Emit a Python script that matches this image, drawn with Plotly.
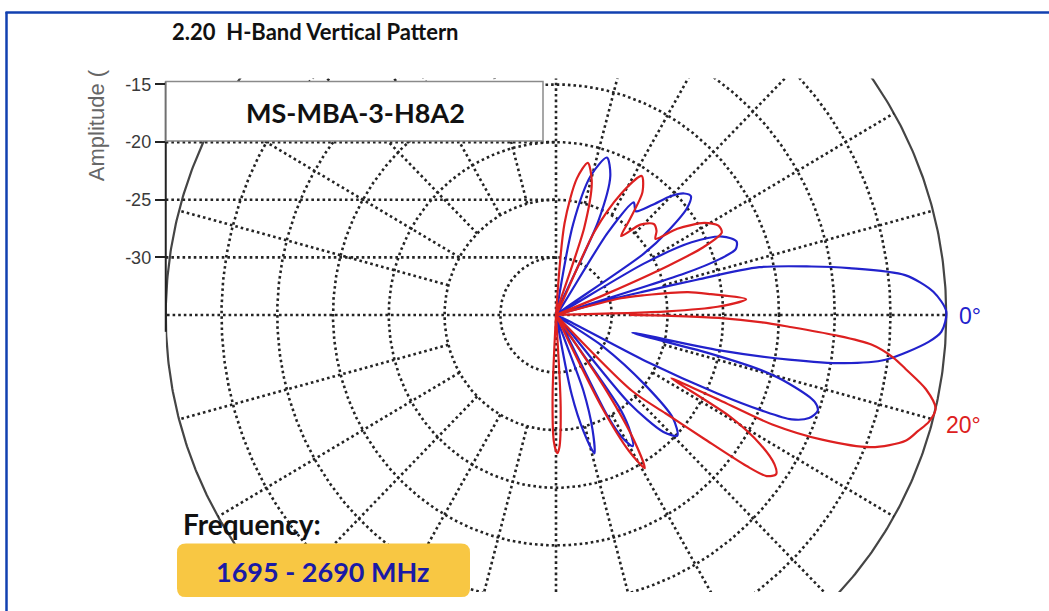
import numpy as np
import plotly.graph_objects as go

# ---------------------------------------------------------------------------
# Vertical pattern data: elevation angle (deg, up = positive) vs amplitude (dB)
# None splits a trace where the pattern falls below the plotted floor.
# ---------------------------------------------------------------------------
BLUE_ANGLE = [90, 82, 79, 75.5, 71.5, 68, 65, 61,
              57, 54.5, 51.5, 48, 45, 42.5, 40.5, 38.3, 36, 34, 31.5,
              29.5, 27.4, 24.5, 21.5, 19.5, 18.3, 17.3, 16.3,
              15.3, 14.5, 13.6, 12.8, 10.4, 8.8, 6.3, 3.4, 0.5, -2.4, -4, -7.5, -9.2, -10.5, -11.8, -12.7,
              -13.6, -14.6, -15.9, -18, -19.5, -21.5, -23.2, -24.2, -25.2, -26.5, -28,
              -33, -37.2, -40.5, -43.9, -46.5, -49.4, -52,
              -54.8, -56.8, -58.8, -60.8, -62.2, -64.5,
              -69.5, -71.8, -74, -76.2, -78.5, -81, -90]
BLUE_DB = [-35, -35, -27, -22.5, -20.6, -22, -26, -35,
           -26.5, -23, -23.5, -22.2, -20.4, -19.4, -19.1, -20, -22.5, -25.5, -35,
           -26, -21.3, -18.6, -17.6, -17.9, -19.5, -23, -35,
           -30, -27.1, -22, -16.3, -11.7, -8.4, -3.5, -1.1, 0, -0.4, -1.5, -5.2, -8.8, -13.75, -20, -28,
           -21, -16, -13.3, -10.6, -10.1, -10.6, -12, -14.8, -19, -26, -35,
           -30, -25, -21.2, -19.9, -21, -25, -35,
           -25, -22.8, -21.7, -22.8, -25, -35,
           -28, -24.5, -22.5, -24.5, -28, -35, -35]

RED_ANGLE = [90, 88, 84.5, 81, 77.8, 74.5, 71.5, 68,
             64.5, 61, 57.5, 54, 51.3, 49.5,
             46, 42, 39, 36.5, 34.5, 31, 28, 25.7, 24, 23, 22, 21,
             18, 14, 12.2, 9.5, 7.4, 4.6, 2.8, 1.8, 1,
             None,
             0, -0.5, -1, -2, -2.8, -4, -5.2, -7, -8.5, -11, -13.4, -15.5, -17.2, -19.2,
             -22.1, -24.4, -26.1, -26.7, -27.6, -28,
             -29.5, -31.5, -33.5, -35, -36.5, -37.5, -39, -41, -44, -47,
             -53, -55.5, -57.3, -59.1, -61, -62.8, -65,
             -85, -87, -88.5, -89.5, -91, -92.5, -94]
RED_DB = [-35, -35, -27, -23, -21.5, -23, -27, -35,
          -27, -23, -20.7, -21.8, -24.5, -26,
          -24.1, -23.2, -23.4, -23.9, -21.8, -19.5, -18.5, -18.5, -20.5, -24, -30, -35,
          -35, -29, -26.9, -23, -21, -17.9, -20.5, -25, -35,
          None,
          -28.4, -24, -20.4, -16.5, -14.1, -10, -6.6, -4.5, -3.3, -1.2, 0, -0.3, -1.0, -1.8,
          -4.5, -8.8, -13.4, -18.3, -22.5, -23.3,
          -17, -13.5, -11.5, -10.9, -11.5, -13.5, -18, -22, -25.5, -35,
          -35, -27, -22, -19.5, -21.5, -26, -35,
          -35, -27, -23.5, -23, -24, -28, -35]

DB_FLOOR = -35                       # amplitude at the centre of the grid
RING_DB = [-30, -25, -20, -15, -10, -5]
OUTER_DB = 0
SPOKE_STEP = 15
AMP_TICKS = [-15, -20, -25, -30]
SERIES = [("0°", BLUE_ANGLE, BLUE_DB, "#2222CC"),
          ("20°", RED_ANGLE, RED_DB, "#DD2020")]

W, H = 1049, 611
CX, CY = 556, 313                    # pixel position of the grid centre
SX, SY = 11.15, 11.6                 # pixels per dB, horizontal / vertical
PLOT_L, PLOT_R, PLOT_T, PLOT_B = CX - 35 * SX, 1000, 75, 592


def px(x):
    return x / W


def py(y):
    return 1 - y / H


def to_xy(angles, dbs):
    xs, ys = [], []
    for a, d in zip(angles, dbs):
        if a is None or d is None:
            xs.append(None)
            ys.append(None)
            continue
        r = max(d - DB_FLOOR, 0.0)
        t = np.radians(a)
        xs.append(r * np.cos(t))
        ys.append(r * np.sin(t))
    return xs, ys


fig = go.Figure()

GRID = dict(color="#242424", width=2.6, dash="2.6px,3px")

# concentric rings
theta = np.radians(np.linspace(0, 360, 721))
for db in RING_DB:
    r = db - DB_FLOOR
    fig.add_trace(go.Scatter(x=r * np.cos(theta), y=r * np.sin(theta), mode="lines",
                             line=GRID, hoverinfo="skip"))
r_out = OUTER_DB - DB_FLOOR
fig.add_trace(go.Scatter(x=r_out * np.cos(theta), y=r_out * np.sin(theta), mode="lines",
                         line=dict(color="#454545", width=2.2), hoverinfo="skip"))

# radial spokes (axis directions start at the centre, others at the -25 dB ring)
for a in range(0, 360, SPOKE_STEP):
    r0 = 0 if a % 90 == 0 else (-25 - DB_FLOOR)
    t = np.radians(a)
    fig.add_trace(go.Scatter(x=[r0 * np.cos(t), r_out * np.cos(t)],
                             y=[r0 * np.sin(t), r_out * np.sin(t)],
                             mode="lines", line=GRID, hoverinfo="skip"))

# amplitude grid lines on the left half
for db in AMP_TICKS[1:]:
    v = db - DB_FLOOR
    fig.add_trace(go.Scatter(x=[-r_out, 0], y=[v, v], mode="lines", line=GRID,
                             hoverinfo="skip"))

# pattern traces
for name, ang, dbs, col in SERIES:
    xs, ys = to_xy(ang, dbs)
    fig.add_trace(go.Scatter(x=xs, y=ys, mode="lines", name=name,
                             line=dict(color=col, width=2.2, shape="spline", smoothing=0.8),
                             connectgaps=False))

shapes = []
# page border
shapes.append(dict(type="line", xref="paper", yref="paper", x0=px(6.5), x1=px(6.5),
                   y0=py(8), y1=py(611), line=dict(color="#1240B0", width=2.5), layer="above"))
shapes.append(dict(type="line", xref="paper", yref="paper", x0=px(5.5), x1=px(1049),
                   y0=py(8.5), y1=py(8.5), line=dict(color="#1240B0", width=2.5), layer="above"))
# amplitude axis line
shapes.append(dict(type="line", xref="paper", yref="paper", x0=px(PLOT_L), x1=px(PLOT_L),
                   y0=py(78), y1=py(330), line=dict(color="#222222", width=2), layer="above"))
# model name box
shapes.append(dict(type="rect", xref="paper", yref="paper", x0=px(166), x1=px(543),
                   y0=py(78), y1=py(138), fillcolor="white",
                   line=dict(color="#8a8a8a", width=1.5), layer="above"))
# frequency badge (rounded rectangle)
x0, x1, y0, y1, rr = 177, 470, 543, 597, 9
path = (f"M {px(x0 + rr)},{py(y0)} L {px(x1 - rr)},{py(y0)} "
        f"Q {px(x1)},{py(y0)} {px(x1)},{py(y0 + rr)} L {px(x1)},{py(y1 - rr)} "
        f"Q {px(x1)},{py(y1)} {px(x1 - rr)},{py(y1)} L {px(x0 + rr)},{py(y1)} "
        f"Q {px(x0)},{py(y1)} {px(x0)},{py(y1 - rr)} L {px(x0)},{py(y0 + rr)} "
        f"Q {px(x0)},{py(y0)} {px(x0 + rr)},{py(y0)} Z")
shapes.append(dict(type="path", xref="paper", yref="paper", path=path,
                   fillcolor="#F8C743", line=dict(width=0), layer="above"))

BOLD = "Lato"
ann = []
ann.append(dict(x=px(170), y=py(28), xanchor="left", yanchor="middle",
                text="<b>2.20  H-Band Vertical Pattern</b>",
                font=dict(family=BOLD, size=22, color="#111111")))
ann.append(dict(x=px(355), y=py(109), xanchor="center", yanchor="middle",
                text="<b>MS-MBA-3-H8A2</b>",
                font=dict(family=BOLD, size=27, color="#111111")))
ann.append(dict(x=px(181), y=py(523), xanchor="left", yanchor="middle",
                text="<b>Frequency:</b>",
                font=dict(family=BOLD, size=28, color="#111111")))
ann.append(dict(x=px(323), y=py(571), xanchor="center", yanchor="middle",
                text="<b>1695 - 2690 MHz</b>",
                font=dict(family=BOLD, size=27, color="#1A1AA6")))
ann.append(dict(x=px(957), y=py(314), xanchor="left", yanchor="middle", text="0°",
                font=dict(family="Liberation Sans", size=23, color=SERIES[0][3])))
ann.append(dict(x=px(944), y=py(424), xanchor="left", yanchor="middle", text="20°",
                font=dict(family="Liberation Sans", size=23, color=SERIES[1][3])))
ann.append(dict(x=px(96), y=py(122), xanchor="center", yanchor="middle", text="Amplitude (",
                textangle=-90, font=dict(family="Liberation Sans", size=22, color="#666666")))
for a in ann:
    a.update(xref="paper", yref="paper", showarrow=False)

fig.update_layout(
    width=W, height=H,
    margin=dict(l=0, r=0, t=0, b=0),
    paper_bgcolor="white", plot_bgcolor="white",
    showlegend=False,
    shapes=shapes, annotations=ann,
    xaxis=dict(domain=[px(PLOT_L), px(PLOT_R)],
               range=[-(CX - PLOT_L) / SX, (PLOT_R - CX) / SX],
               showgrid=False, zeroline=False, showticklabels=False, showline=False, ticks=""),
    yaxis=dict(domain=[py(PLOT_B), py(PLOT_T)],
               range=[-(PLOT_B - CY) / SY, (CY - PLOT_T) / SY],
               tickvals=[t - DB_FLOOR for t in AMP_TICKS],
               ticktext=[str(t) for t in AMP_TICKS],
               ticks="outside", ticklen=10, tickwidth=1.5, tickcolor="#222222",
               tickfont=dict(family="Liberation Sans", size=18, color="#3a3a3a"),
               showgrid=False, zeroline=False, showline=False),
)

fig.write_html("out.html")
